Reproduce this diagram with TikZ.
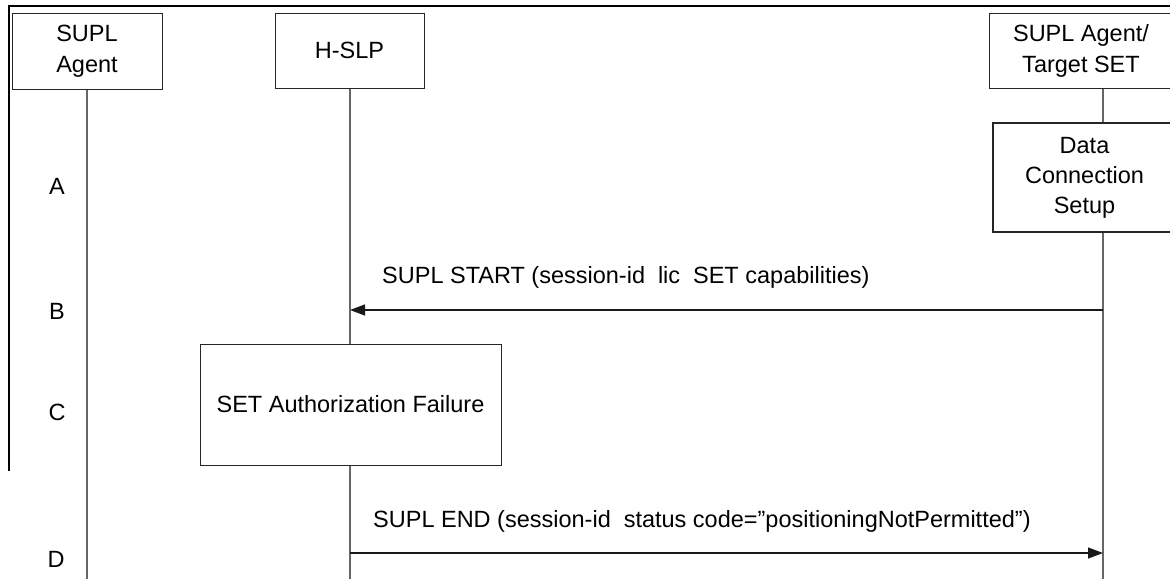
\documentclass[tikz,border=0pt]{standalone}
\usepackage{fontspec}
\setmainfont{Liberation Sans}
\usetikzlibrary{arrows.meta}
\begin{document}
\begin{tikzpicture}[x=1pt,y=-1pt,
  box/.style={draw=black!85, line width=1pt, fill=white, inner sep=0pt, align=center,
    font=\fontsize{23.5}{31}\selectfont},
  life/.style={draw=black!60, line width=1.2pt},
  frame/.style={draw=black, line width=2.8pt},
  msg/.style={draw=black!90, line width=1.3pt, -{Triangle[length=15pt,width=11pt]}},
  lbl/.style={font=\fontsize{23.5}{28}\selectfont, inner sep=0pt}]
\useasboundingbox (0,0) rectangle (1170,579);
\clip (0,0) rectangle (1170,579);
% frame
\coordinate (fTL) at (9,6);
\coordinate (fTR) at (1172,6);
\coordinate (fBL) at (9,471);
\draw[frame] (fBL) -- (fTL) -- (fTR);
% headers
\node[box, minimum width=150, minimum height=76] (ag) at (87,51) {SUPL\\Agent};
\node[box, minimum width=149, minimum height=75] (hs) at (349.5,50.5) {H-SLP};
\node[box, minimum width=184, minimum height=75] (tg) at (1081,50.5) {SUPL Agent/\\Target SET};
\node[box, line width=1.6pt, minimum width=183, minimum height=109, font=\fontsize{23.5}{30}\selectfont] (dc) at (1084.5,177.5) {Data\\Connection\\Setup};
\node[box, minimum width=301, minimum height=121] (af) at (350.5,404.5) {SET Authorization Failure};
% lifeline coordinates
\coordinate (agB) at (87,579);
\coordinate (hsB) at (350,579);
\coordinate (tgX) at (1103,0);
\coordinate (tgB) at (1103,579);
\draw[life] (ag.south) -- (agB);
\draw[life] (hs.south -| hsB) -- (af.north -| hsB);
\draw[life] (af.south -| hsB) -- (hsB);
\draw[life] (tg.south -| tgX) -- (dc.north -| tgX);
\draw[life] (dc.south -| tgX) -- (tgB);
% messages
\coordinate (m1s) at (1103,310);
\coordinate (m1e) at (350,310);
\draw[msg] (m1s) -- (m1e);
\node[lbl, anchor=west] (t1) at (382,277) {SUPL START (session-id\hspace{0.55em}lic\hspace{0.55em}SET capabilities)};
\coordinate (m2s) at (350,553);
\coordinate (m2e) at (1103,553);
\draw[msg] (m2s) -- (m2e);
\node[lbl, anchor=west] (t2) at (373,521) {SUPL END (session-id\hspace{0.55em}status code=”positioningNotPermitted”)};
% phase labels
\node[lbl] (la) at (57,186) {A};
\node[lbl] (lb) at (57,311) {B};
\node[lbl] (lc) at (57,412) {C};
\node[lbl] (ld) at (56,559) {D};
\end{tikzpicture}
\end{document}
